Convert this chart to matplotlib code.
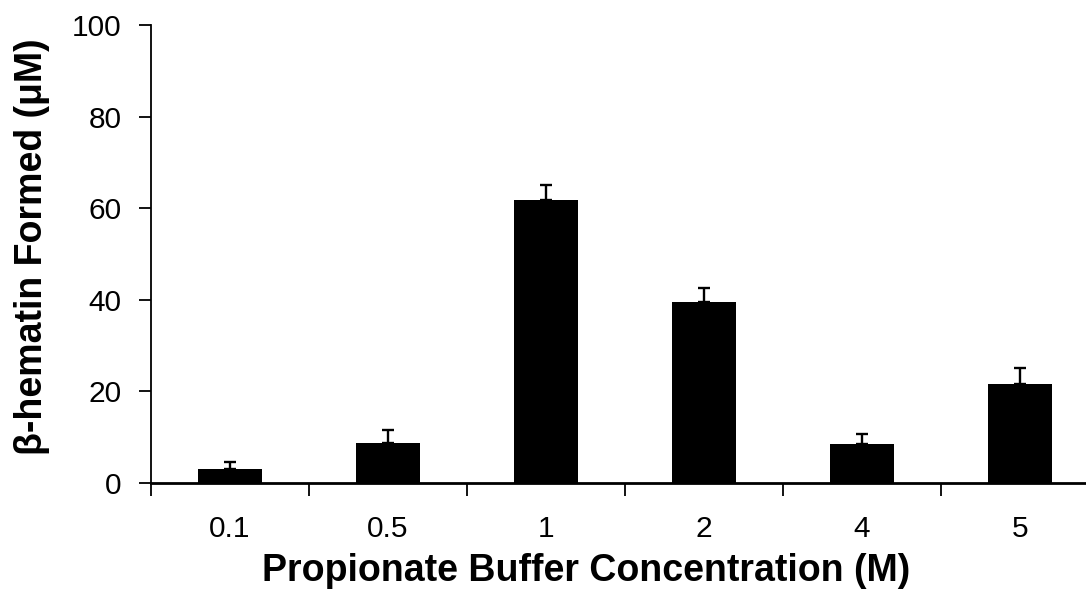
import numpy as np
import matplotlib.pyplot as plt
from matplotlib.ticker import FixedLocator, NullFormatter

plt.rcParams['font.family'] = ['Liberation Sans', 'DejaVu Sans']

categories = ['0.1', '0.5', '1', '2', '4', '5']
formed = [3.0, 8.7, 61.8, 39.6, 8.6, 21.7]
err_up = [1.6, 2.9, 3.3, 2.9, 2.2, 3.5]

fig = plt.figure(figsize=(10.86, 5.97), dpi=100)
ax = fig.add_axes([0.139, 0.191, 0.873, 0.767])

x = np.arange(len(categories))
lower = np.zeros(len(err_up))
ax.bar(x, formed, width=0.41, color='black', zorder=2)
ax.errorbar(x, formed, yerr=[lower, err_up], fmt='none', ecolor='black',
            elinewidth=1.7, capsize=4.5, capthick=1.7, zorder=3)

ax.set_xlim(-0.5, len(categories) - 0.5)
ax.set_ylim(0, 100)
ax.set_yticks([0, 20, 40, 60, 80, 100])
ax.set_xticks(x)
ax.set_xticklabels(categories)
ax.xaxis.set_minor_locator(FixedLocator(np.arange(-0.5, len(categories), 1.0)))
ax.xaxis.set_minor_formatter(NullFormatter())
ax.tick_params(axis='x', which='major', length=0, pad=23, labelsize=21.5)
ax.tick_params(axis='x', which='minor', length=9, width=1.3)
ax.tick_params(axis='y', length=9, width=1.3, pad=12, labelsize=21.5)

for side in ['top', 'right']:
    ax.spines[side].set_visible(False)
ax.spines['left'].set_linewidth(1.3)
ax.spines['bottom'].set_linewidth(2)

ax.set_xlabel('Propionate Buffer Concentration (M)', fontsize=27,
              fontweight='bold')
ax.set_ylabel('β-hematin Formed (μM)', fontsize=27, fontweight='bold')
ax.xaxis.set_label_coords(0.459, -0.152)
ax.yaxis.set_label_coords(-0.106, 0.515)

fig.savefig('out.png', dpi=100)
